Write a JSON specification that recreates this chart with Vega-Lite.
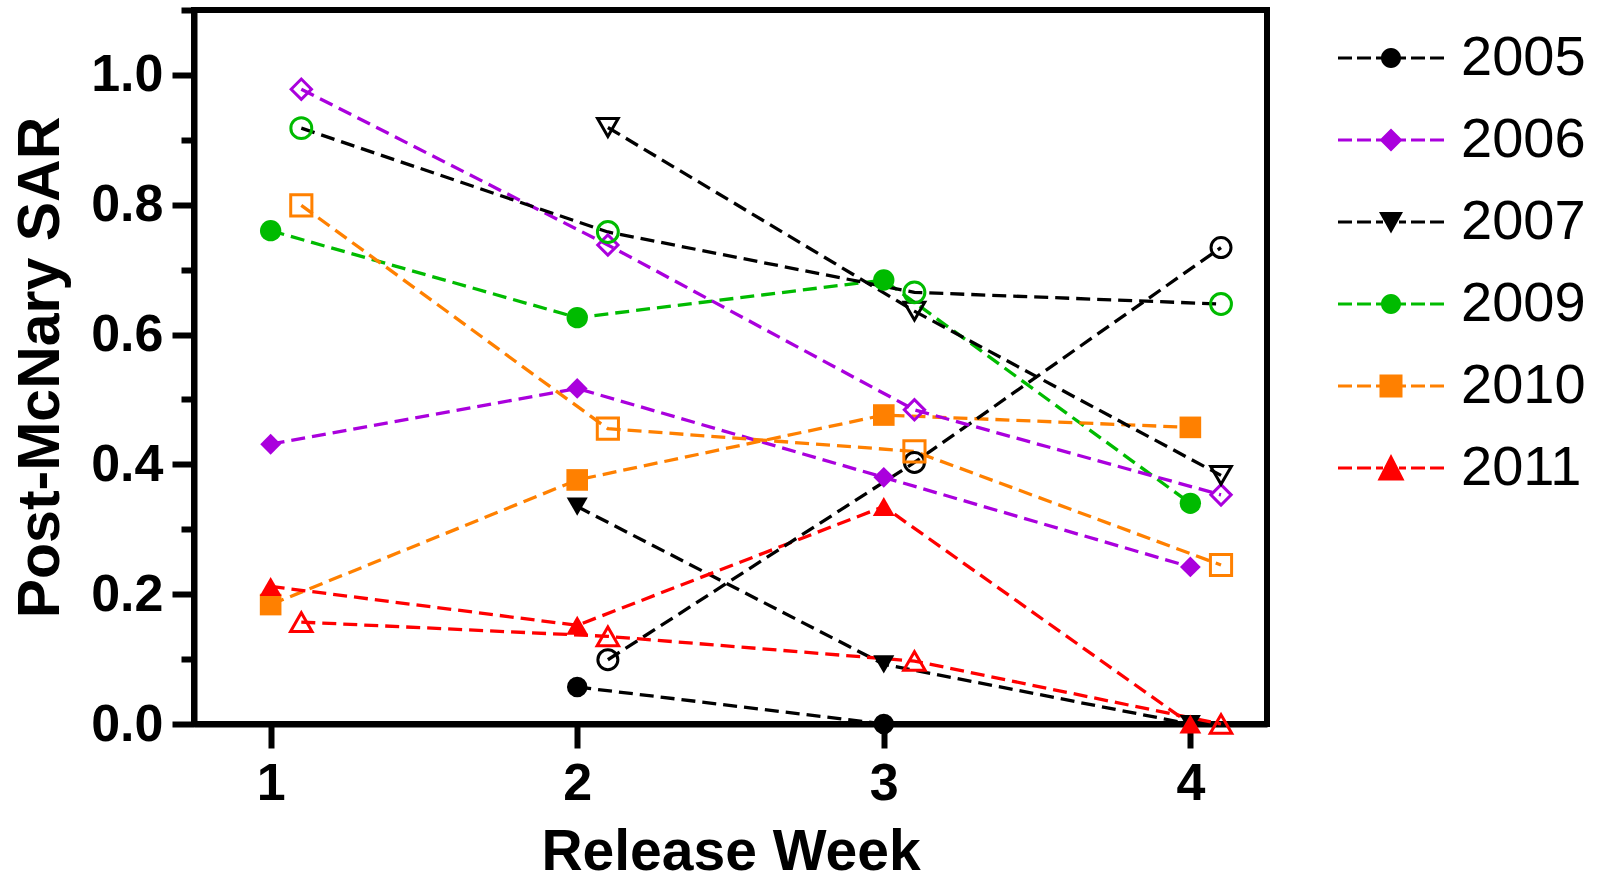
{
  "$schema": "https://vega.github.io/schema/vega-lite/v6.json",
  "width": 1073,
  "height": 714,
  "autosize": {"type": "none"},
  "padding": {"left": 194, "top": 10, "right": 335, "bottom": 162},
  "background": "white",
  "config": {
    "view": {"stroke": "black", "strokeWidth": 6},
    "axis": {
      "grid": false,
      "domainColor": "black",
      "domainWidth": 6,
      "tickColor": "black",
      "tickWidth": 6,
      "labelFont": "Liberation Sans",
      "labelFontWeight": "bold",
      "labelFontSize": 52,
      "labelColor": "black",
      "titleFont": "Liberation Sans",
      "titleFontWeight": "bold",
      "titleFontSize": 59,
      "titleColor": "black"
    }
  },
  "data": {
    "values": [
      {"year": "2005", "kind": "filled", "series": "2005 filled", "week": 2, "sar": 0.057},
      {"year": "2005", "kind": "filled", "series": "2005 filled", "week": 3, "sar": 0.0},
      {"year": "2006", "kind": "filled", "series": "2006 filled", "week": 1, "sar": 0.431},
      {"year": "2006", "kind": "filled", "series": "2006 filled", "week": 2, "sar": 0.517},
      {"year": "2006", "kind": "filled", "series": "2006 filled", "week": 3, "sar": 0.38},
      {"year": "2006", "kind": "filled", "series": "2006 filled", "week": 4, "sar": 0.242},
      {"year": "2007", "kind": "filled", "series": "2007 filled", "week": 2, "sar": 0.335},
      {"year": "2007", "kind": "filled", "series": "2007 filled", "week": 3, "sar": 0.092},
      {"year": "2007", "kind": "filled", "series": "2007 filled", "week": 4, "sar": 0.0},
      {"year": "2009", "kind": "filled", "series": "2009 filled", "week": 1, "sar": 0.76},
      {"year": "2009", "kind": "filled", "series": "2009 filled", "week": 2, "sar": 0.626},
      {"year": "2009", "kind": "filled", "series": "2009 filled", "week": 3, "sar": 0.684},
      {"year": "2009", "kind": "filled", "series": "2009 filled", "week": 4, "sar": 0.34},
      {"year": "2010", "kind": "filled", "series": "2010 filled", "week": 1, "sar": 0.184},
      {"year": "2010", "kind": "filled", "series": "2010 filled", "week": 2, "sar": 0.376},
      {"year": "2010", "kind": "filled", "series": "2010 filled", "week": 3, "sar": 0.476},
      {"year": "2010", "kind": "filled", "series": "2010 filled", "week": 4, "sar": 0.457},
      {"year": "2011", "kind": "filled", "series": "2011 filled", "week": 1, "sar": 0.212},
      {"year": "2011", "kind": "filled", "series": "2011 filled", "week": 2, "sar": 0.152},
      {"year": "2011", "kind": "filled", "series": "2011 filled", "week": 3, "sar": 0.335},
      {"year": "2011", "kind": "filled", "series": "2011 filled", "week": 4, "sar": 0.0},
      {"year": "2005", "kind": "open", "series": "2005 open", "week": 2.1, "sar": 0.099},
      {"year": "2005", "kind": "open", "series": "2005 open", "week": 3.1, "sar": 0.403},
      {"year": "2005", "kind": "open", "series": "2005 open", "week": 4.1, "sar": 0.734},
      {"year": "2006", "kind": "open", "series": "2006 open", "week": 1.1, "sar": 0.978},
      {"year": "2006", "kind": "open", "series": "2006 open", "week": 2.1, "sar": 0.738},
      {"year": "2006", "kind": "open", "series": "2006 open", "week": 3.1, "sar": 0.484},
      {"year": "2006", "kind": "open", "series": "2006 open", "week": 4.1, "sar": 0.353},
      {"year": "2007", "kind": "open", "series": "2007 open", "week": 2.1, "sar": 0.919},
      {"year": "2007", "kind": "open", "series": "2007 open", "week": 3.1, "sar": 0.636},
      {"year": "2007", "kind": "open", "series": "2007 open", "week": 4.1, "sar": 0.383},
      {"year": "2009", "kind": "open", "series": "2009 open", "week": 1.1, "sar": 0.918},
      {"year": "2009", "kind": "open", "series": "2009 open", "week": 2.1, "sar": 0.758},
      {"year": "2009", "kind": "open", "series": "2009 open", "week": 3.1, "sar": 0.665},
      {"year": "2009", "kind": "open", "series": "2009 open", "week": 4.1, "sar": 0.647},
      {"year": "2010", "kind": "open", "series": "2010 open", "week": 1.1, "sar": 0.799},
      {"year": "2010", "kind": "open", "series": "2010 open", "week": 2.1, "sar": 0.455},
      {"year": "2010", "kind": "open", "series": "2010 open", "week": 3.1, "sar": 0.42},
      {"year": "2010", "kind": "open", "series": "2010 open", "week": 4.1, "sar": 0.245},
      {"year": "2011", "kind": "open", "series": "2011 open", "week": 1.1, "sar": 0.157},
      {"year": "2011", "kind": "open", "series": "2011 open", "week": 2.1, "sar": 0.135},
      {"year": "2011", "kind": "open", "series": "2011 open", "week": 3.1, "sar": 0.097},
      {"year": "2011", "kind": "open", "series": "2011 open", "week": 4.1, "sar": 0.0}
    ]
  },
  "encoding": {
    "x": {
      "field": "week",
      "type": "quantitative",
      "scale": {"domain": [0.75, 4.25], "nice": false, "zero": false},
      "axis": {
        "values": [1, 2, 3, 4],
        "format": "d",
        "tickSize": 24,
        "labelPadding": 10,
        "labelFlush": false,
        "labelOverlap": false,
        "title": "Release Week",
        "titleFontSize": 57,
        "titlePadding": 15
      }
    },
    "y": {
      "field": "sar",
      "type": "quantitative",
      "scale": {"domain": [0, 1.1], "nice": false, "zero": false},
      "axis": {
        "values": [0, 0.1, 0.2, 0.3, 0.4, 0.5, 0.6, 0.7, 0.8, 0.9, 1.0, 1.1],
        "tickSize": {"condition": {"test": "round(datum.value*10) % 2 == 1", "value": 13}, "value": 22},
        "labelExpr": "round(datum.value*10) % 2 == 0 ? format(datum.value, '.1f') : ''",
        "labelPadding": 9,
        "labelFlush": false,
        "labelOverlap": false,
        "title": "Post-McNary SAR",
        "titlePadding": 20
      }
    }
  },
  "layer": [
    {
      "mark": {"type": "line", "strokeWidth": 3.3, "strokeDash": [14, 7]},
      "encoding": {
        "color": {
          "field": "series",
          "type": "nominal",
          "scale": {
            "domain": ["2005 filled", "2005 open", "2006 filled", "2006 open", "2007 filled", "2007 open", "2009 filled", "2009 open", "2010 filled", "2010 open", "2011 filled", "2011 open"],
            "range": ["#000000", "#000000", "#AA00DD", "#AA00DD", "#000000", "#000000", "#00BB00", "#000000", "#FF8000", "#FF8000", "#FF0000", "#FF0000"]
          },
          "legend": null
        }
      }
    },
    {
      "transform": [{"filter": "datum.kind == 'open'"}],
      "mark": {"type": "point", "filled": false, "strokeWidth": 3, "opacity": 1},
      "encoding": {
        "color": {
          "field": "year", "type": "nominal",
          "scale": {"domain": ["2005", "2006", "2007", "2009", "2010", "2011"], "range": ["#000000", "#AA00DD", "#000000", "#00BB00", "#FF8000", "#FF0000"]},
          "legend": null
        },
        "shape": {
          "field": "year", "type": "nominal",
          "scale": {"domain": ["2005", "2006", "2007", "2009", "2010", "2011"], "range": ["circle", "diamond", "triangle-down", "circle", "square", "triangle-up"]},
          "legend": null
        },
        "size": {
          "field": "year", "type": "nominal",
          "scale": {"domain": ["2005", "2006", "2007", "2009", "2010", "2011"], "range": [400, 460, 520, 400, 400, 520]},
          "legend": null
        }
      }
    },
    {
      "transform": [{"filter": "datum.kind == 'filled'"}],
      "mark": {"type": "point", "filled": true, "opacity": 1},
      "encoding": {
        "color": {
          "field": "year", "type": "nominal",
          "scale": {"domain": ["2005", "2006", "2007", "2009", "2010", "2011"], "range": ["#000000", "#AA00DD", "#000000", "#00BB00", "#FF8000", "#FF0000"]},
          "legend": null
        },
        "shape": {
          "field": "year", "type": "nominal",
          "scale": {"domain": ["2005", "2006", "2007", "2009", "2010", "2011"], "range": ["circle", "diamond", "triangle-down", "circle", "square", "triangle-up"]},
          "legend": null
        },
        "size": {
          "field": "year", "type": "nominal",
          "scale": {"domain": ["2005", "2006", "2007", "2009", "2010", "2011"], "range": [420, 480, 520, 420, 540, 620]},
          "legend": null
        }
      }
    },
    {
      "data": {"values": []},
      "mark": {"type": "point", "filled": true, "size": 400},
      "encoding": {
        "color": {
          "field": "year", "type": "nominal",
          "scale": {"domain": ["2005", "2006", "2007", "2009", "2010", "2011"], "range": ["#000000", "#AA00DD", "#000000", "#00BB00", "#FF8000", "#FF0000"]},
          "legend": {
            "title": null, "orient": "none", "legendX": 1169, "legendY": 20, "padding": 0,
            "symbolSize": 400, "symbolStrokeWidth": 0, "symbolOpacity": 1,
            "labelFont": "Liberation Sans", "labelFontSize": 56, "labelColor": "black",
            "labelOffset": 42, "rowPadding": 26, "labelBaseline": "middle"
          }
        },
        "shape": {
          "field": "year", "type": "nominal",
          "scale": {
            "domain": ["2005", "2006", "2007", "2009", "2010", "2011"],
            "range": [
              "M-5.3,-0.16L-3.9,-0.16L-3.9,0.16L-5.3,0.16ZM-3.4,-0.16L-2,-0.16L-2,0.16L-3.4,0.16ZM-1.5,-0.16L-0.8,-0.16L-0.8,0.16L-1.5,0.16ZM0.8,-0.16L1.5,-0.16L1.5,0.16L0.8,0.16ZM2,-0.16L3.4,-0.16L3.4,0.16L2,0.16ZM3.9,-0.16L5.3,-0.16L5.3,0.16L3.9,0.16ZM-1,0A1,1,0,1,1,1,0A1,1,0,1,1,-1,0Z",
              "M-5.3,-0.16L-3.9,-0.16L-3.9,0.16L-5.3,0.16ZM-3.4,-0.16L-2,-0.16L-2,0.16L-3.4,0.16ZM-1.5,-0.16L-0.8,-0.16L-0.8,0.16L-1.5,0.16ZM0.8,-0.16L1.5,-0.16L1.5,0.16L0.8,0.16ZM2,-0.16L3.4,-0.16L3.4,0.16L2,0.16ZM3.9,-0.16L5.3,-0.16L5.3,0.16L3.9,0.16ZM0,-1.15L1.15,0L0,1.15L-1.15,0Z",
              "M-5.3,-0.16L-3.9,-0.16L-3.9,0.16L-5.3,0.16ZM-3.4,-0.16L-2,-0.16L-2,0.16L-3.4,0.16ZM-1.5,-0.16L-0.8,-0.16L-0.8,0.16L-1.5,0.16ZM0.8,-0.16L1.5,-0.16L1.5,0.16L0.8,0.16ZM2,-0.16L3.4,-0.16L3.4,0.16L2,0.16ZM3.9,-0.16L5.3,-0.16L5.3,0.16L3.9,0.16ZM-1.2,-1L1.2,-1L0,1.15Z",
              "M-5.3,-0.16L-3.9,-0.16L-3.9,0.16L-5.3,0.16ZM-3.4,-0.16L-2,-0.16L-2,0.16L-3.4,0.16ZM-1.5,-0.16L-0.8,-0.16L-0.8,0.16L-1.5,0.16ZM0.8,-0.16L1.5,-0.16L1.5,0.16L0.8,0.16ZM2,-0.16L3.4,-0.16L3.4,0.16L2,0.16ZM3.9,-0.16L5.3,-0.16L5.3,0.16L3.9,0.16ZM-1,0A1,1,0,1,1,1,0A1,1,0,1,1,-1,0Z",
              "M-5.3,-0.16L-3.9,-0.16L-3.9,0.16L-5.3,0.16ZM-3.4,-0.16L-2,-0.16L-2,0.16L-3.4,0.16ZM-1.5,-0.16L-0.8,-0.16L-0.8,0.16L-1.5,0.16ZM0.8,-0.16L1.5,-0.16L1.5,0.16L0.8,0.16ZM2,-0.16L3.4,-0.16L3.4,0.16L2,0.16ZM3.9,-0.16L5.3,-0.16L5.3,0.16L3.9,0.16ZM-1.15,-1.15L1.15,-1.15L1.15,1.15L-1.15,1.15Z",
              "M-5.3,-0.16L-3.9,-0.16L-3.9,0.16L-5.3,0.16ZM-3.4,-0.16L-2,-0.16L-2,0.16L-3.4,0.16ZM-1.5,-0.16L-0.8,-0.16L-0.8,0.16L-1.5,0.16ZM0.8,-0.16L1.5,-0.16L1.5,0.16L0.8,0.16ZM2,-0.16L3.4,-0.16L3.4,0.16L2,0.16ZM3.9,-0.16L5.3,-0.16L5.3,0.16L3.9,0.16ZM0,-1.4L1.35,1.25L-1.35,1.25Z"
            ]
          },
          "legend": {
            "title": null, "orient": "none", "legendX": 1169, "legendY": 20, "padding": 0,
            "symbolSize": 400, "symbolStrokeWidth": 0, "symbolOpacity": 1,
            "labelFont": "Liberation Sans", "labelFontSize": 56, "labelColor": "black",
            "labelOffset": 42, "rowPadding": 26, "labelBaseline": "middle"
          }
        }
      }
    }
  ],
  "resolve": {"scale": {"color": "independent", "shape": "independent", "size": "independent"}}
}
